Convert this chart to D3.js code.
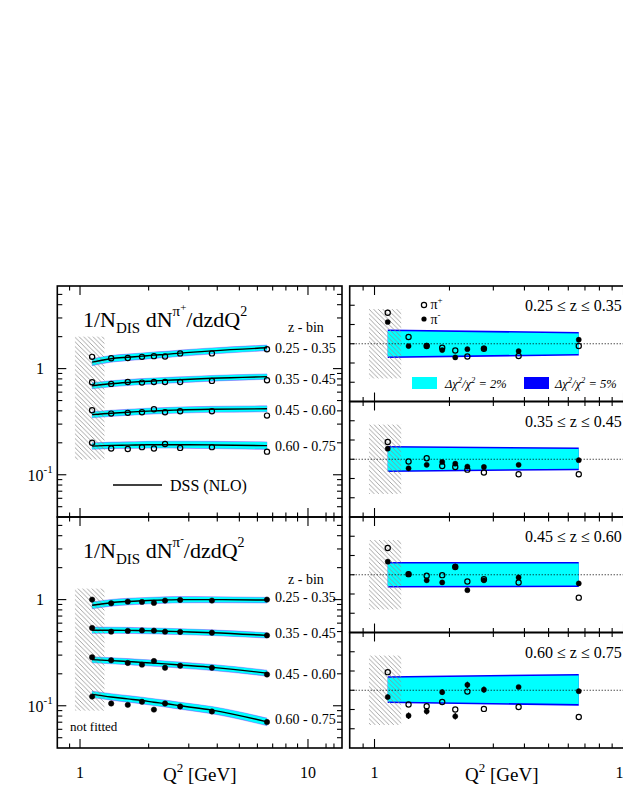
<!DOCTYPE html>
<html><head><meta charset="utf-8">
<script src="https://cdn.jsdelivr.net/npm/d3@7"></script>
<style>body{margin:0;background:#fff}svg{display:block}text{white-space:pre}</style>
</head><body><svg id="c" width="623" height="806"></svg>
<script>
// ---------------- data ----------------
const q2 = [1.13, 1.37, 1.62, 1.87, 2.11, 2.36, 2.75, 3.79, 6.61];
const zBinLabels = ["0.25 - 0.35", "0.35 - 0.45", "0.45 - 0.60", "0.60 - 0.75"];
const zRangeLabels = ["0.25 \u2264 z \u2264 0.35", "0.35 \u2264 z \u2264 0.45", "0.45 \u2264 z \u2264 0.60", "0.60 \u2264 z \u2264 0.75"];

const piPlus = [
  [1.29, 1.25, 1.26, 1.29, 1.31, 1.30, 1.39, 1.39, 1.52],
  [0.743, 0.718, 0.749, 0.738, 0.749, 0.749, 0.749, 0.766, 0.776],
  [0.405, 0.377, 0.383, 0.388, 0.414, 0.388, 0.396, 0.396, 0.361],
  [0.200, 0.177, 0.175, 0.182, 0.177, 0.195, 0.179, 0.182, 0.165]
];
const piPlusDSS = [
  [1.15, 1.24, 1.28, 1.31, 1.34, 1.36, 1.40, 1.47, 1.57],
  [0.69, 0.72, 0.74, 0.755, 0.765, 0.775, 0.785, 0.81, 0.84],
  [0.368, 0.380, 0.388, 0.395, 0.400, 0.403, 0.408, 0.414, 0.418],
  [0.186, 0.189, 0.190, 0.191, 0.192, 0.192, 0.192, 0.191, 0.188]
];
const piMinus = [
  [1.00, 0.923, 0.957, 0.951, 0.931, 0.979, 0.993, 0.979, 1.00],
  [0.541, 0.499, 0.507, 0.513, 0.510, 0.499, 0.496, 0.488, 0.460],
  [0.286, 0.268, 0.253, 0.244, 0.264, 0.228, 0.238, 0.228, 0.197],
  [0.122, 0.105, 0.102, 0.109, 0.092, 0.105, 0.0985, 0.0883, 0.0702]
];
const piMinusDSS = [
  [0.884, 0.935, 0.96, 0.975, 0.985, 0.993, 1.0, 1.0, 0.99],
  [0.515, 0.515, 0.513, 0.51, 0.507, 0.504, 0.499, 0.488, 0.46],
  [0.272, 0.266, 0.261, 0.256, 0.252, 0.248, 0.242, 0.23, 0.203],
  [0.128, 0.121, 0.116, 0.112, 0.108, 0.105, 0.1, 0.091, 0.0705]
];

// relative deviation (data - fit)/fit, right panels
const devPlus = [
  [0.161, 0.035, -0.012, -0.021, -0.035, -0.066, -0.026, -0.064, -0.012],
  [0.090, -0.012, 0.005, -0.035, -0.040, -0.054, -0.069, -0.078, -0.078],
  [0.139, 0.003, -0.005, -0.002, 0.040, -0.035, -0.023, -0.040, -0.119],
  [0.094, -0.074, -0.083, -0.061, -0.100, -0.007, -0.097, -0.087, -0.139]
];
const devMinus = [
  [0.113, -0.012, -0.010, -0.033, -0.071, -0.028, -0.024, -0.038, 0.021],
  [0.055, -0.047, -0.029, -0.014, -0.023, -0.038, -0.040, -0.029, -0.005],
  [0.068, 0.003, -0.029, -0.040, 0.043, -0.080, -0.029, -0.014, -0.045],
  [-0.035, -0.132, -0.109, -0.010, -0.135, 0.028, 0.003, 0.017, -0.005]
];
const devMinusErr = [
  [0, 0, 0, 0, 0, 0, 0, 0, 0],
  [0, 0, 0, 0, 0, 0, 0, 0, 0],
  [0, 0, 0, 0, 0, 0, 0, 0, 0],
  [0.013, 0.017, 0.017, 0.015, 0.017, 0.016, 0.016, 0.010, 0.010]
];

// uncertainty bands (relative), given at the ends of the fitted Q2 range
const bandQ2 = [1.13, 6.61];
const band5Up = [[0.074, 0.061], [0.069, 0.061], [0.066, 0.066], [0.073, 0.085]];
const band5Lo = [[-0.074, -0.061], [-0.066, -0.057], [-0.066, -0.064], [-0.066, -0.080]];
const band2Up = [[0.066, 0.053], [0.061, 0.053], [0.058, 0.058], [0.065, 0.077]];
const band2Lo = [[-0.066, -0.053], [-0.058, -0.049], [-0.058, -0.056], [-0.058, -0.072]];

// "not fitted" region
const hatchQ2 = [0.95, 1.28];
const hatchPlus = [0.139, 2.0];
const hatchMinus = [0.09, 1.27];
const hatchDev = [-0.18, 0.18];

// ticks
const xMajor = [1, 10];
const xMinor = [0.9, 2, 3, 4, 5, 6, 7, 8, 9, 12, 13];
const xLabels = [{v: 1, t: "1"}, {v: 10, t: "10"}];
const yMajor = [0.1, 1];
const yMinor = [0.05, 0.06, 0.07, 0.08, 0.09, 0.2, 0.3, 0.4, 0.5, 0.6, 0.7, 0.8, 0.9, 2, 3, 4, 5];
const devTicks = [-0.2, -0.1, 0, 0.1, 0.2];

// ---------------- drawing ----------------
const FONT = "'Liberation Serif','Times New Roman',serif";
const CYAN = "#00ffff", BLUE = "#0000ff";
const svg = d3.select("#c");
const defs = svg.append("defs");
const pat = defs.append("pattern").attr("id", "hatch").attr("patternUnits", "userSpaceOnUse")
  .attr("width", 4.6).attr("height", 4.6);
pat.append("path").attr("d", "M-1.2,-1.2 L5.8,5.8 M-1.2,3.4 L1.2,5.8 M3.4,-1.2 L5.8,1.2")
  .attr("stroke", "#8e8e8e").attr("stroke-width", 0.8).attr("fill", "none");

const L = {x0: 57.3, x1: 342};
const R = {x0: 349.7, x1: 660.7};
const xL = d3.scaleLog().domain([0.795, 14.1]).range([L.x0, L.x1]);
const xR = d3.scaleLog().domain([0.795, 14.1]).range([R.x0, R.x1]);

function rich(g, x, y, parts, extra) {
  const t = g.append("text").attr("x", x).attr("y", y).attr("font-family", FONT).attr("fill", "#000");
  if (extra) extra(t);
  parts.forEach(p => t.append("tspan").attr("font-size", p[1]).attr("dy", p[2] || 0).text(p[0]));
  return t;
}
let clipId = 0;
function clip(x0, y0, x1, y1) {
  const id = "clip" + (clipId++);
  defs.append("clipPath").attr("id", id).append("rect").attr("x", x0).attr("y", y0)
    .attr("width", x1 - x0).attr("height", y1 - y0);
  return "url(#" + id + ")";
}
function bandFn(arr) {
  return d3.scaleLinear().domain(bandQ2.map(Math.log)).range(arr);
}
function xTicks(g, x, yb, yt) {
  [[xMajor, 9], [xMinor, 4.5]].forEach(([vals, len]) => {
    g.selectAll(null).data(vals).join("line")
      .attr("x1", d => x(d)).attr("x2", d => x(d)).attr("y1", yb).attr("y2", yb - len)
      .attr("stroke", "#000").attr("stroke-width", 1.1);
    g.selectAll(null).data(vals).join("line")
      .attr("x1", d => x(d)).attr("x2", d => x(d)).attr("y1", yt).attr("y2", yt + len)
      .attr("stroke", "#000").attr("stroke-width", 1.1);
  });
}

function leftPanel(y0, y1, data, theory, filled, hatchY, title) {
  const g = svg.append("g");
  const y = d3.scaleLog().domain([0.04, 6]).range([y1, y0]);
  const inner = g.append("g").attr("clip-path", clip(L.x0, y0, L.x1, y1));
  theory.forEach((th, i) => {
    const pts = q2.map((q, j) => ({q, v: th[j]}));
    const u5 = bandFn(band5Up[i]), l5 = bandFn(band5Lo[i]);
    const u2 = bandFn(band2Up[i]), l2 = bandFn(band2Lo[i]);
    const a5 = d3.area().curve(d3.curveMonotoneX).x(d => xL(d.q))
      .y0(d => y(d.v * (1 + l5(Math.log(d.q))))).y1(d => y(d.v * (1 + u5(Math.log(d.q)))));
    const a2 = d3.area().curve(d3.curveMonotoneX).x(d => xL(d.q))
      .y0(d => y(d.v * (1 + l2(Math.log(d.q))))).y1(d => y(d.v * (1 + u2(Math.log(d.q)))));
    inner.append("path").attr("d", a5(pts)).attr("fill", "#5a6cff").attr("stroke", "#7a80ff").attr("stroke-width", 0.5);
    inner.append("path").attr("d", a2(pts)).attr("fill", CYAN);
  });
  inner.append("rect").attr("x", xL(hatchQ2[0])).attr("width", xL(hatchQ2[1]) - xL(hatchQ2[0]))
    .attr("y", y(hatchY[1])).attr("height", y(hatchY[0]) - y(hatchY[1])).attr("fill", "url(#hatch)");
  theory.forEach(th => {
    const line = d3.line().curve(d3.curveMonotoneX).x((d, j) => xL(q2[j])).y(d => y(d));
    inner.append("path").attr("d", line(th)).attr("fill", "none").attr("stroke", "#000").attr("stroke-width", 1.4);
  });
  data.forEach(row => {
    inner.selectAll(null).data(row).join("circle")
      .attr("cx", (d, j) => xL(q2[j])).attr("cy", d => y(d)).attr("r", filled ? 2.7 : 2.6)
      .attr("fill", filled ? "#000" : "none").attr("stroke", "#000").attr("stroke-width", filled ? 0.5 : 1.2);
  });
  // frame & ticks
  g.append("rect").attr("x", L.x0).attr("y", y0).attr("width", L.x1 - L.x0).attr("height", y1 - y0)
    .attr("fill", "none").attr("stroke", "#000").attr("stroke-width", 1.6);
  xTicks(g, xL, y1, y0);
  [[yMajor, 9], [yMinor, 5]].forEach(([vals, len]) => {
    g.selectAll(null).data(vals).join("line")
      .attr("x1", L.x0).attr("x2", L.x0 + len).attr("y1", d => y(d)).attr("y2", d => y(d))
      .attr("stroke", "#000").attr("stroke-width", 1.1);
    g.selectAll(null).data(vals).join("line")
      .attr("x1", L.x1).attr("x2", L.x1 - len).attr("y1", d => y(d)).attr("y2", d => y(d))
      .attr("stroke", "#000").attr("stroke-width", 1.1);
  });
  // y labels
  g.append("text").attr("x", 44).attr("y", y(1) + 5.5).attr("text-anchor", "end")
    .attr("font-family", FONT).attr("font-size", 16).text("1");
  rich(g, 27.5, y(0.1) + 6, [["10", 16, 0], ["-1", 11, -8]]);
  // title
  rich(g, 83, y0 + 41, title);
  return {g, y};
}

const topP = leftPanel(286, 517, piPlus, piPlusDSS, false, hatchPlus,
  [["1/N", 22, 0], ["DIS", 15, 6], [" dN", 22, -6], ["\u03c0", 15, -11], ["+", 11, -5], ["/dzdQ", 22, 16], ["2", 14, -11]]);
const botP = leftPanel(517, 748, piMinus, piMinusDSS, true, hatchMinus,
  [["1/N", 22, 0], ["DIS", 15, 6], [" dN", 22, -6], ["\u03c0", 15, -11], ["-", 11, -5], ["/dzdQ", 22, 16], ["2", 14, -11]]);

// z-bin labels
const topLabY = [353, 384, 415, 451], botLabY = [602, 638, 679, 724];
[[topP.g, topLabY, 332], [botP.g, botLabY, 584]].forEach(([g, ys, zy]) => {
  g.append("text").attr("x", 288).attr("y", zy).attr("font-family", FONT).attr("font-size", 14).text("z - bin");
  g.selectAll(null).data(zBinLabels).join("text").attr("x", 275).attr("y", (d, i) => ys[i])
    .attr("font-family", FONT).attr("font-size", 14).text(d => d);
});
// DSS legend
topP.g.append("line").attr("x1", 113).attr("x2", 162).attr("y1", 485).attr("y2", 485)
  .attr("stroke", "#000").attr("stroke-width", 1.4);
topP.g.append("text").attr("x", 170).attr("y", 490.5).attr("font-family", FONT).attr("font-size", 16).text("DSS (NLO)");
botP.g.append("text").attr("x", 70).attr("y", 730.5).attr("font-family", FONT).attr("font-size", 13).text("not fitted");

// ---------------- right panels ----------------
const rTops = [286, 401.5, 517, 632.5], rH = 115.5;
rTops.forEach((t0, i) => {
  const g = svg.append("g");
  const y = d3.scaleLinear().domain([-0.3, 0.3]).range([t0 + rH, t0]);
  const inner = g.append("g").attr("clip-path", clip(R.x0, t0, 623, t0 + rH));
  const a = (up, lo) => d3.area().x(d => xR(d)).y0((d, k) => y(lo[k])).y1((d, k) => y(up[k]));
  inner.append("path").attr("d", a(band5Up[i], band5Lo[i])(bandQ2)).attr("fill", BLUE);
  inner.append("path").attr("d", a(band2Up[i], band2Lo[i])(bandQ2)).attr("fill", CYAN);
  inner.append("rect").attr("x", xR(hatchQ2[0])).attr("width", xR(hatchQ2[1]) - xR(hatchQ2[0]))
    .attr("y", y(hatchDev[1])).attr("height", y(hatchDev[0]) - y(hatchDev[1])).attr("fill", "url(#hatch)");
  inner.append("line").attr("x1", R.x0).attr("x2", 623).attr("y1", y(0)).attr("y2", y(0))
    .attr("stroke", "#000").attr("stroke-width", 1).attr("stroke-dasharray", "1,2");
  // error bars
  inner.selectAll(null).data(devMinus[i]).join("line")
    .attr("x1", (d, j) => xR(q2[j])).attr("x2", (d, j) => xR(q2[j]))
    .attr("y1", (d, j) => y(d - devMinusErr[i][j])).attr("y2", (d, j) => y(d + devMinusErr[i][j]))
    .attr("stroke", "#000").attr("stroke-width", 1.2);
  inner.selectAll(null).data(devPlus[i]).join("circle")
    .attr("cx", (d, j) => xR(q2[j])).attr("cy", d => y(d)).attr("r", 2.6)
    .attr("fill", "none").attr("stroke", "#000").attr("stroke-width", 1.2);
  inner.selectAll(null).data(devMinus[i]).join("circle")
    .attr("cx", (d, j) => xR(q2[j])).attr("cy", d => y(d)).attr("r", 2.6)
    .attr("fill", "#000").attr("stroke", "#000").attr("stroke-width", 0.4);
  g.append("rect").attr("x", R.x0).attr("y", t0).attr("width", R.x1 - R.x0).attr("height", rH)
    .attr("fill", "none").attr("stroke", "#000").attr("stroke-width", 1.6);
  xTicks(g, xR, t0 + rH, t0);
  g.selectAll(null).data(devTicks).join("line")
    .attr("x1", R.x0).attr("x2", R.x0 + 5).attr("y1", d => y(d)).attr("y2", d => y(d))
    .attr("stroke", "#000").attr("stroke-width", 1.1);
  g.append("text").attr("x", 525).attr("y", t0 + 25).attr("font-family", FONT).attr("font-size", 16)
    .text(zRangeLabels[i]);
});

// right legend
const lg = svg.append("g");
lg.append("circle").attr("cx", 424).attr("cy", 305).attr("r", 2.6).attr("fill", "none").attr("stroke", "#000").attr("stroke-width", 1.2);
lg.append("circle").attr("cx", 424).attr("cy", 319).attr("r", 2.6).attr("fill", "#000");
rich(lg, 430.5, 309, [["\u03c0", 14, 0], ["+", 9, -6]]);
rich(lg, 430.5, 324, [["\u03c0", 14, 0], ["-", 9, -6]]);
lg.append("rect").attr("x", 412).attr("y", 377).attr("width", 25).attr("height", 12).attr("fill", CYAN);
lg.append("rect").attr("x", 524).attr("y", 377).attr("width", 25).attr("height", 12).attr("fill", BLUE);
const chi = v => [["\u0394\u03c7", 12.5, 0], ["2", 8.5, -5], ["/\u03c7", 12.5, 5], ["2", 8.5, -5], [" = " + v, 12.5, 5]];
rich(lg, 445, 387.5, chi("2%"), t => t.attr("font-style", "italic"));
rich(lg, 555, 387.5, chi("5%"), t => t.attr("font-style", "italic"));

// x axis labels
const ax = svg.append("g");
[[xL], [xR]].forEach(([x]) => {
  ax.selectAll(null).data(xLabels).join("text").attr("x", d => x(d.v)).attr("y", 777.5)
    .attr("text-anchor", "middle").attr("font-family", FONT).attr("font-size", 16).text(d => d.t);
});
const qT = [["Q", 19, 0], ["2", 13, -9], [" [GeV]", 19, 9]];
rich(ax, 163, 781, qT);
rich(ax, 465, 781, qT);
</script>
</body></html>
